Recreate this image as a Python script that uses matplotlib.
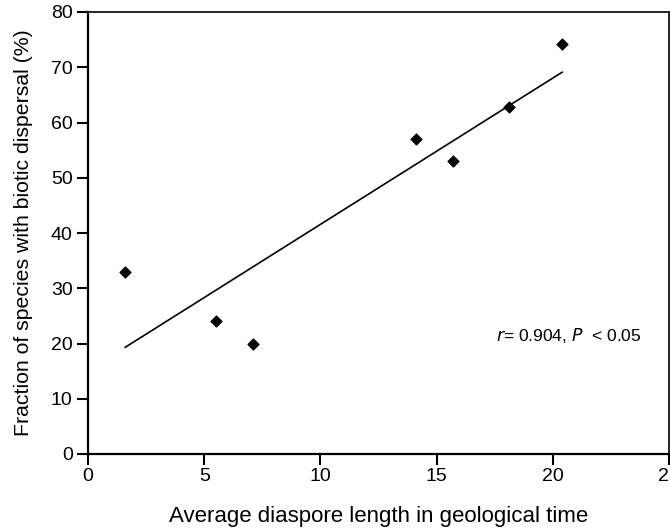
import numpy as np
import matplotlib.pyplot as plt

plt.rcParams['font.family'] = ['Liberation Sans', 'DejaVu Sans']

# Datos
diaspore_length = [1.6, 5.5, 7.1, 14.1, 15.7, 18.1, 20.4]
biotic_fraction = [33.0, 24.0, 20.0, 57.0, 53.0, 62.8, 74.2]

# Ajuste lineal
slope, intercept = np.polyfit(diaspore_length, biotic_fraction, 1)
x_fit = np.array([min(diaspore_length), max(diaspore_length)])
y_fit = slope * x_fit + intercept

fig = plt.figure(figsize=(6.7, 5.31), dpi=100)
ax = fig.add_axes([88 / 670, 1 - 454 / 531, 581 / 670, 442 / 531])

ax.plot(x_fit, y_fit, color='black', linewidth=1.2)
ax.scatter(diaspore_length, biotic_fraction, marker='D', s=30, color='black', zorder=3)

ax.set_xlim(0, 25)
ax.set_ylim(0, 80)
ax.set_xticks([0, 5, 10, 15, 20, 25])
ax.set_yticks(range(0, 81, 10))
ax.tick_params(direction='out', length=8, width=1.5, labelsize=14, colors='black')
ax.tick_params(axis='x', pad=2)
ax.tick_params(axis='y', pad=3)
for s in ['left', 'bottom']:
    ax.spines[s].set_linewidth(1.6)
for s in ['top', 'right']:
    ax.spines[s].set_linewidth(1.2)

ax.set_xlabel('Average diaspore length in geological time', fontsize=16, labelpad=15)
ax.set_ylabel('Fraction of species with biotic dispersal (%)', fontsize=15.3, labelpad=13)

ax.text(496 / 670 * 670 / 581 - 88 / 581, 0.268, r'$\it{r}$= 0.904, $\it{P}$  < 0.05',
        transform=ax.transAxes, fontsize=12.5, ha='left', va='center')

fig.savefig('out.png', dpi=100)
